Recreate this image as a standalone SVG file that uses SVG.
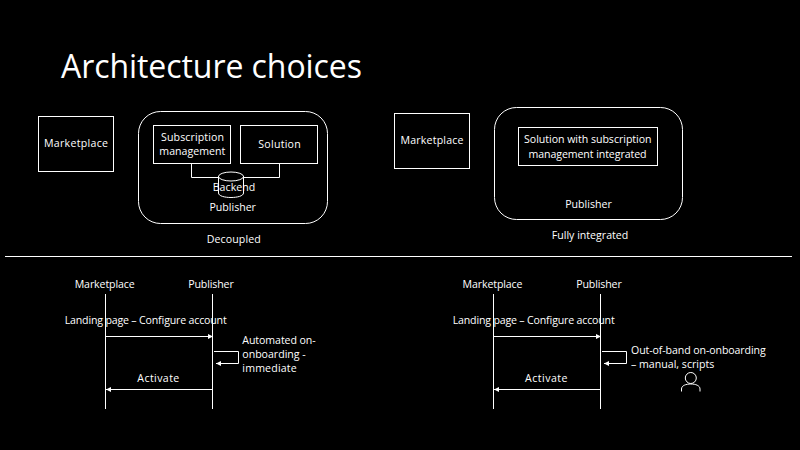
<svg xmlns="http://www.w3.org/2000/svg" width="800" height="450" viewBox="0 0 800 450">
<style>
text{font-family:"Open Sans","Noto Sans",sans-serif;font-size:10.6px;fill:#fff;text-anchor:middle}
.l{text-anchor:start}
.s{fill:none;stroke:#fff;stroke-width:1}
.a{fill:none;stroke:#fff;stroke-width:1;marker-end:url(#h)}
</style>
<defs><marker id="h" markerUnits="userSpaceOnUse" markerWidth="6" markerHeight="6" refX="5" refY="3" orient="auto"><path d="M0 0.5L5 3L0 5.500z" fill="#fff"/></marker></defs>
<rect width="800" height="450" fill="#000"/>
<text id="title" class="l" x="61" y="78" style="font-size:32px" textLength="301">Architecture choices</text>
<g id="connectors">
<path class="s" d="M191.500 164V177.500H218M279.500 164V177.500H243"/>
<path class="s" d="M5 256.500H792"/>
<path class="s" d="M105.500 294V409M212.500 294V409"/>
<path class="a" d="M106 336.500H213"/>
<path class="a" d="M214 351.500H238.500V363.500H216"/>
<path class="a" d="M212 389.500H106"/>
<path class="s" d="M493.500 294V409M600.500 294V409"/>
<path class="a" d="M494 336.500H601"/>
<path class="a" d="M602 351.500H626.500V363.500H604"/>
<path class="a" d="M600 389.500H494"/>
</g>
<g id="marketplace-a"><rect class="s" x="38.500" y="116.500" width="75" height="55"/><text x="76" y="147" textLength="64">Marketplace</text></g>
<g id="publisher-a"><rect class="s" x="138.500" y="111.500" width="189" height="112" rx="22"/><text x="232.700" y="211" textLength="46.500">Publisher</text></g>
<g id="subscription"><rect class="s" x="153.500" y="125.500" width="77" height="38"/><text x="192.500" y="141" textLength="63">Subscription</text><text x="192.300" y="155" textLength="66">management</text></g>
<g id="solution"><rect class="s" x="240.500" y="125.500" width="77" height="38"/><text x="279.500" y="148" textLength="42.500">Solution</text></g>
<g id="backend"><path class="s" d="M218.500 176V193C218.500 199 243.500 199 243.500 193V176"/><ellipse class="s" cx="231" cy="176.500" rx="12.500" ry="4.500"/><text x="234" y="191" textLength="42.500">Backend</text></g>
<text id="decoupled" x="233.700" y="243" textLength="54">Decoupled</text>
<g id="marketplace-b"><rect class="s" x="394.500" y="113.500" width="75" height="55"/><text x="432" y="144" textLength="63">Marketplace</text></g>
<g id="publisher-b"><rect class="s" x="494.500" y="107.500" width="188" height="112" rx="22"/><text x="588.500" y="208" textLength="46.500">Publisher</text></g>
<g id="solution-integrated"><rect class="s" x="518.500" y="127.500" width="139" height="38"/><text x="587.800" y="143" textLength="127.500">Solution with subscription</text><text x="587.500" y="158" textLength="118">management integrated</text></g>
<text id="integrated" x="590" y="239" textLength="76.500">Fully integrated</text>
<g id="seq-a">
<text x="104.700" y="288" textLength="60">Marketplace</text><text x="211" y="288" textLength="45.500">Publisher</text>
<text x="145.700" y="324" textLength="162">Landing page – Configure account</text>
<text class="l" x="242.300" y="344" textLength="73.400">Automated on-</text><text class="l" x="242.300" y="358" textLength="63.400">onboarding -</text><text class="l" x="242.300" y="372" textLength="54.400">immediate</text>
<text x="158.300" y="382" textLength="42">Activate</text>
</g>
<g id="seq-b">
<text x="492.500" y="288" textLength="60">Marketplace</text><text x="599" y="288" textLength="45.500">Publisher</text>
<text x="533.700" y="324" textLength="162">Landing page – Configure account</text>
<text class="l" x="631" y="354" textLength="134.700">Out-of-band on-onboarding</text><text class="l" x="631" y="368" textLength="83.300">– manual, scripts</text>
<text x="546.300" y="382" textLength="42.500">Activate</text>
</g>
<g id="person"><circle class="s" cx="690.800" cy="378" r="5.500"/><path class="s" d="M681.500 391.500V389C681.500 385.500 686 384 690.800 384S700 385.500 700 389V391.500"/></g>
</svg>
